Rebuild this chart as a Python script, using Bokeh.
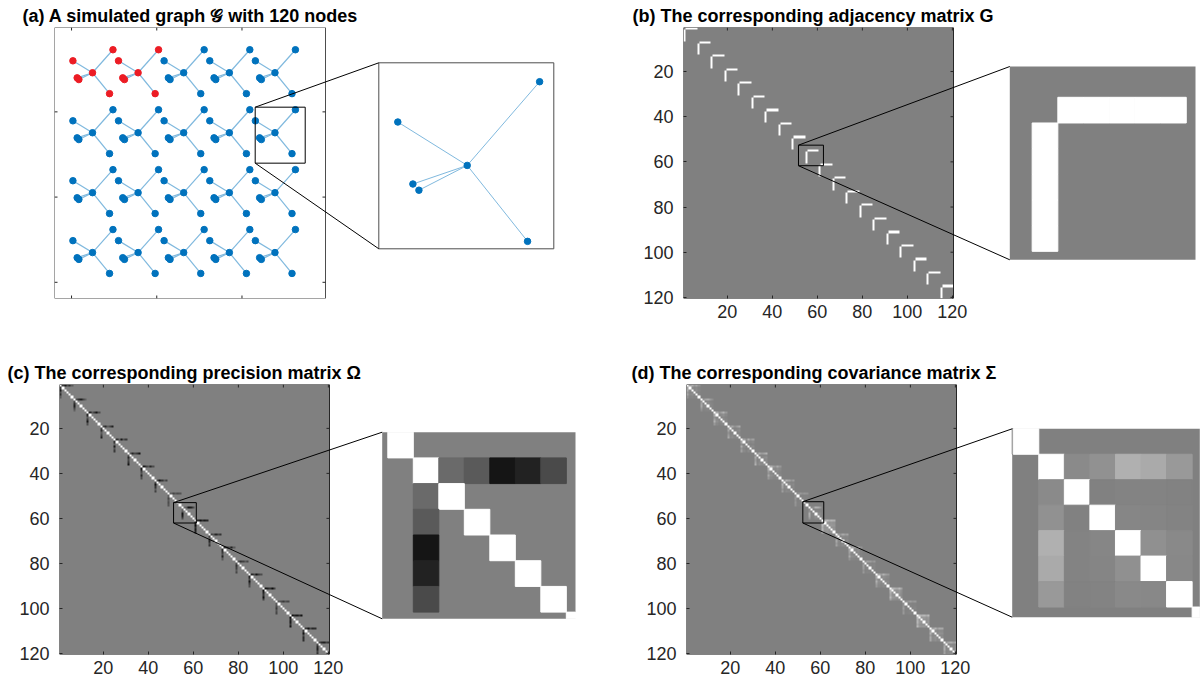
import numpy as np
from bokeh.plotting import figure
from bokeh.models import Range1d, LinearAxis, FixedTicker, LinearColorMapper, ColumnDataSource, Title
from bokeh.layouts import column, row
from bokeh.embed import file_html
from bokeh.resources import INLINE
from bokeh.transform import linear_cmap

# ---------------- data ----------------
GROUP_SIZE = 6
N_GROUPS = 20
N_NODES = GROUP_SIZE * N_GROUPS          # 120
GRID_COLS = 5
HUB_X = [0.246, 0.781, 1.316, 1.852, 2.387]   # hub x per grid column
HUB_Y = [2.459, 1.755, 1.052, 0.349]          # hub y per grid row
LEAF_DX = [0.24, -0.23, -0.18, -0.16, 0.20]    # leaf offsets from hub
LEAF_DY = [0.27, 0.14, -0.06, -0.08, -0.245]
HIGHLIGHT_GROUPS = [0, 1]
PREC_DIAG = 2.4
PREC_OFFDIAG = [
    [-0.55, -0.80, -0.40, -0.65, -0.30],
    [-0.35, -0.60, -0.75, -0.45, -0.25],
    [-0.70, -0.30, -0.55, -0.85, -0.40],
    [-0.45, -0.65, -0.30, -0.50, -0.75],
    [-0.60, -0.25, -0.80, -0.35, -0.55],
    [-0.30, -0.70, -0.45, -0.60, -0.85],
    [-0.80, -0.50, -0.35, -0.70, -0.40],
    [-0.40, -0.85, -0.60, -0.30, -0.50],
    [-0.25, -0.45, -0.30, -0.40, -0.35],
    [-0.17, -0.29, -0.835, -0.73, -0.42],
    [-0.75, -0.90, -0.65, -0.80, -0.70],
    [-0.50, -0.35, -0.70, -0.45, -0.60],
    [-0.65, -0.55, -0.40, -0.75, -0.30],
    [-0.35, -0.60, -0.50, -0.30, -0.45],
    [-0.70, -0.45, -0.85, -0.55, -0.40],
    [-0.85, -0.75, -0.60, -0.90, -0.50],
    [-0.30, -0.40, -0.55, -0.35, -0.45],
    [-0.90, -0.70, -0.80, -0.60, -0.85],
    [-0.55, -0.85, -0.45, -0.70, -0.65],
    [-0.40, -0.65, -0.75, -0.50, -0.60],
]
MATRIX_TICKS = [20, 40, 60, 80, 100, 120]
GRAPH_TICKS = [0, 1, 2]
TITLE_A = "(a) A simulated graph \U0001D4A2 with 120 nodes"
TITLE_B = "(b) The corresponding adjacency matrix G"
TITLE_C = "(c) The corresponding precision matrix  \u03A9"
TITLE_D = "(d) The corresponding covariance matrix  \u03A3"

# ---------------- derived data ----------------
node_x, node_y, node_color = [], [], []
edges = []
for g in range(N_GROUPS):
    r, c = divmod(g, GRID_COLS)
    hx, hy = HUB_X[c], HUB_Y[r]
    col = "#ec1c24" if g in HIGHLIGHT_GROUPS else "#0072BD"
    hub = g * GROUP_SIZE
    node_x.append(hx); node_y.append(hy); node_color.append(col)
    for k in range(GROUP_SIZE - 1):
        node_x.append(hx + LEAF_DX[k]); node_y.append(hy + LEAF_DY[k]); node_color.append(col)
        edges.append((hub, hub + 1 + k, PREC_OFFDIAG[g][k]))
node_x = np.array(node_x); node_y = np.array(node_y)

ADJ = np.zeros((N_NODES, N_NODES))
OMEGA = np.eye(N_NODES) * PREC_DIAG
for a, b, w in edges:
    ADJ[a, b] = ADJ[b, a] = 1.0
    OMEGA[a, b] = OMEGA[b, a] = w
SIG = np.linalg.inv(OMEGA)
sd = np.sqrt(np.diag(SIG))
SIGMA = SIG / np.outer(sd, sd)
SIGMA[np.abs(SIGMA) < 1e-10] = 0.0

# ---------------- layout helpers ----------------
def to_page(d, d_a, d_b, p_a, p_b):
    return p_a + (d - d_a) * (p_b - p_a) / (d_b - d_a)

def make_range(d_a, d_b, p_a, p_b, f_start, f_end):
    s = (d_b - d_a) / (p_b - p_a)
    return Range1d(start=d_a + (f_start - p_a) * s, end=d_a + (f_end - p_a) * s)

GRAYS = ["#%02x%02x%02x" % (i, i, i) for i in range(256)]
TICK_COL = "#262626"
FONT = "Liberation Sans"
TICK_LEN = 3


def base_panel(fig_box, frame, main_box, main_x, main_y, inset_box, view):
    fl, ft, fr, fb = frame
    p = figure(width=fig_box[2] - fig_box[0], height=fig_box[3] - fig_box[1],
               min_border_left=fl - fig_box[0], min_border_right=fig_box[2] - fr,
               min_border_top=ft - fig_box[1], min_border_bottom=fig_box[3] - fb,
               x_range=make_range(main_x[0], main_x[1], main_box[0], main_box[2], fl, fr),
               y_range=make_range(main_y[0], main_y[1], main_box[1], main_box[3], fb, ft),
               x_axis_type=None, y_axis_type=None, title=None,
               output_backend="svg", toolbar_location=None,
               outline_line_color=None, background_fill_color="white",
               border_fill_color="white")
    p.extra_x_ranges = {
        "ix": make_range(view[0], view[1], inset_box[0], inset_box[2], fl, fr),
        "px": Range1d(fl, fr)}
    p.extra_y_ranges = {
        "iy": make_range(view[2], view[3], inset_box[1], inset_box[3], fb, ft),
        "py": Range1d(fb, ft)}
    return p


def add_title(p, text, title_x, frame):
    t = Title(text=text, align="left", offset=title_x - frame[0], standoff=3,
              text_font=FONT + ", DejaVu Serif", text_font_style="bold",
              text_font_size="18px", text_color="black")
    p.add_layout(t, "above")


def box_ticks(p, ticks, main_box, main_x, main_y, sides):
    l, t, r, b = main_box
    x0, y0, x1, y1 = [], [], [], []
    for tk in ticks:
        xp = to_page(tk, main_x[0], main_x[1], l, r)
        yp = to_page(tk, main_y[0], main_y[1], t, b)
        if "top" in sides:
            x0 += [xp]; y0 += [t]; x1 += [xp]; y1 += [t + TICK_LEN]
        if "bottom" in sides:
            x0 += [xp]; y0 += [b]; x1 += [xp]; y1 += [b - TICK_LEN]
        if "left" in sides:
            x0 += [l]; y0 += [yp]; x1 += [l + TICK_LEN]; y1 += [yp]
        if "right" in sides:
            x0 += [r]; y0 += [yp]; x1 += [r - TICK_LEN]; y1 += [yp]
    p.segment(x0=x0, y0=y0, x1=x1, y1=y1, line_color=TICK_COL, line_width=1,
              x_range_name="px", y_range_name="py")


def add_axes(p, xb, yb, ticks):
    for loc, bounds in (("left", yb), ("below", xb)):
        ax = LinearAxis(bounds=bounds, ticker=FixedTicker(ticks=ticks))
        ax.axis_line_color = None
        ax.major_tick_in = TICK_LEN
        ax.major_tick_out = 0
        ax.major_tick_line_color = TICK_COL
        ax.minor_tick_line_color = None
        ax.major_label_text_font = FONT
        ax.major_label_text_font_size = "18px"
        ax.major_label_text_color = TICK_COL
        ax.major_label_standoff = 10 if loc == "left" else 6
        p.add_layout(ax, loc)


def connectors(p, rect, main_box, main_x, main_y, inset_box):
    rx = to_page(rect[0], main_x[0], main_x[1], main_box[0], main_box[2])
    ry_top = to_page(rect[2], main_y[0], main_y[1], main_box[1], main_box[3])
    ry_bot = to_page(rect[3], main_y[0], main_y[1], main_box[1], main_box[3])
    p.segment(x0=[rx, rx], y0=[ry_top, ry_bot], x1=[inset_box[0], inset_box[0]],
              y1=[inset_box[1], inset_box[3]], line_color="black", line_width=1,
              x_range_name="px", y_range_name="py")
    p.quad(left=[rect[0]], right=[rect[1]], top=[rect[2]], bottom=[rect[3]],
           fill_color=None, line_color="black", line_width=1)


def matrix_panel(M, fig_box, frame, main_box, inset_box, view, rect, title, title_x):
    main_x = (0.5, N_NODES + 0.5)
    main_y = (0.5, N_NODES + 0.5)
    p = base_panel(fig_box, frame, main_box, main_x, main_y, inset_box, view)
    mapper = LinearColorMapper(palette=GRAYS, low=-1, high=1)
    p.image(image=[M], x=0.5, y=0.5, dw=N_NODES, dh=N_NODES, color_mapper=mapper)
    # inset: zero background + non-zero cells clipped to the view
    cm = linear_cmap("v", GRAYS, -1, 1)
    bg = ColumnDataSource(dict(left=[view[0]], right=[view[1]], top=[view[2]],
                               bottom=[view[3]], v=[0.0]))
    p.quad(left="left", right="right", top="top", bottom="bottom", source=bg,
           fill_color=cm, line_color=None, x_range_name="ix", y_range_name="iy")
    L, R, T, B, V = [], [], [], [], []
    for i in range(1, N_NODES + 1):
        if i + 0.5 <= view[2] or i - 0.5 >= view[3]:
            continue
        for j in range(1, N_NODES + 1):
            if j + 0.5 <= view[0] or j - 0.5 >= view[1] or M[i - 1, j - 1] == 0:
                continue
            L.append(max(j - 0.5, view[0])); R.append(min(j + 0.5, view[1]))
            T.append(max(i - 0.5, view[2])); B.append(min(i + 0.5, view[3]))
            V.append(M[i - 1, j - 1])
    src = ColumnDataSource(dict(left=L, right=R, top=T, bottom=B, v=V))
    p.quad(left="left", right="right", top="top", bottom="bottom", source=src,
           fill_color=cm, line_color=cm, line_width=1,
           x_range_name="ix", y_range_name="iy")
    p.quad(left=[main_x[0]], right=[main_x[1]], top=[main_y[0]], bottom=[main_y[1]],
           fill_color=None, line_color=TICK_COL, line_width=1)
    add_axes(p, main_x, main_y, MATRIX_TICKS)
    box_ticks(p, MATRIX_TICKS, main_box, main_x, main_y, ("top", "right"))
    connectors(p, rect, main_box, main_x, main_y, inset_box)
    add_title(p, title, title_x, frame)
    return p


# ---------------- panel (a): graph ----------------
A_FIG = (0, 0, 602, 343)
A_FRAME = (54, 27, 560, 298)
A_MAIN = (54, 27, 325, 298)
A_X = (-0.2, 2.98)
A_Y = (2.99, -0.19)
A_INSET = (378.3, 62.3, 553.3, 248.3)
A_VIEW = (2.094, 2.674, 2.086, 1.486)
A_RECT = (2.155, 2.742, 2.055, 1.398)

pa = base_panel(A_FIG, A_FRAME, A_MAIN, A_X, A_Y, A_INSET, A_VIEW)
e0 = [a for a, b, w in edges]; e1 = [b for a, b, w in edges]
EDGE_COL = "#80b9de"
pa.segment(x0=node_x[e0], y0=node_y[e0], x1=node_x[e1], y1=node_y[e1],
           line_color=EDGE_COL, line_width=1.2)
pa.scatter(x=node_x, y=node_y, color=node_color, size=6.5, marker="circle")
pa.quad(left=[A_X[0]], right=[A_X[1]], top=[A_Y[0]], bottom=[A_Y[1]],
        fill_color=None, line_color="#4d4d4d", line_width=1)
box_ticks(pa, GRAPH_TICKS, A_MAIN, A_X, A_Y, ("top", "bottom", "left", "right"))

def in_view(i):
    return A_VIEW[0] < node_x[i] < A_VIEW[1] and A_VIEW[3] < node_y[i] < A_VIEW[2]

vis_nodes = [i for i in range(N_NODES) if in_view(i)]
vis_edges = [(a, b) for a, b, w in edges if in_view(a) and in_view(b)]
pa.quad(left=[A_VIEW[0]], right=[A_VIEW[1]], top=[A_VIEW[2]], bottom=[A_VIEW[3]],
        fill_color="white", line_color="#4d4d4d", line_width=1,
        x_range_name="ix", y_range_name="iy")
pa.segment(x0=node_x[[a for a, b in vis_edges]], y0=node_y[[a for a, b in vis_edges]],
           x1=node_x[[b for a, b in vis_edges]], y1=node_y[[b for a, b in vis_edges]],
           line_color=EDGE_COL, line_width=1, x_range_name="ix", y_range_name="iy")
pa.scatter(x=node_x[vis_nodes], y=node_y[vis_nodes], color=[node_color[i] for i in vis_nodes],
           size=6.5, marker="circle", x_range_name="ix", y_range_name="iy")
connectors(pa, A_RECT, A_MAIN, A_X, A_Y, A_INSET)
add_title(pa, TITLE_A, 22, A_FRAME)

# ---------------- panels (b)-(d): matrices ----------------
pb = matrix_panel(ADJ, (602, 0, 1204, 343), (683, 27, 1199, 298), (683, 27, 953, 298),
                  (1009.3, 66, 1195, 259.3), (53.63, 60.86, 53.3, 60.83),
                  (51.6, 62.7, 52.6, 61.7), TITLE_B, 632)
pc = matrix_panel(OMEGA, (0, 343, 602, 686), (59, 384, 580, 654), (59, 384, 329, 654),
                  (381.7, 431.7, 575, 618.3), (53.28, 60.86, 53.5, 60.76),
                  (51.2, 61.3, 53.0, 62.06), TITLE_C, 7)
pd_ = matrix_panel(SIGMA, (602, 343, 1204, 686), (686, 384, 1200, 654), (686, 384, 956, 654),
                   (1011.7, 428.3, 1199.3, 616.7), (53.46, 60.8, 53.5, 60.9),
                   (52.2, 61.5, 52.6, 62.06), TITLE_D, 631)

layout = column(row(pa, pb), row(pc, pd_))
open("out.html", "w").write(file_html(layout, INLINE))
